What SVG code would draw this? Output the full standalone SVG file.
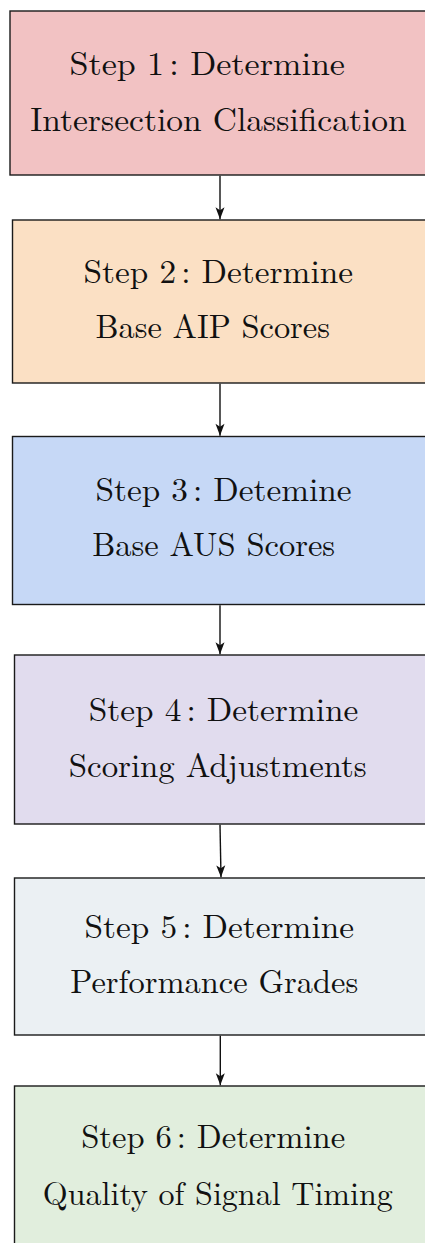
<svg xmlns="http://www.w3.org/2000/svg" width="425" height="1243" viewBox="0 0 425 1243">
<defs>
<style>
.box{stroke:#1a1a1a;stroke-width:1.4}
.t{font-family:"Latin Modern Roman","CMU Serif","Liberation Serif","DejaVu Serif","Noto Serif","FreeSerif","Nimbus Roman","TeX Gyre Termes","Times New Roman",Times,serif;font-size:33px;fill:#111}
.c{stroke:#111;stroke-width:1.4;fill:none}
</style>
<marker id="ah" viewBox="-13 -5 14 10" markerWidth="14" markerHeight="10" refX="0" refY="0" orient="auto" markerUnits="userSpaceOnUse">
<path d="M0,0 L-12,-4.5 L-9,0 L-12,4.5 Z" fill="#111"/>
</marker>
</defs>
<rect width="425" height="1243" fill="#fff"/>
<g id="step1">
<rect class="box" x="10" y="11" width="430" height="164" fill="#f2c2c3"/>
<text class="t" x="69.5" y="75" textLength="275.5" lengthAdjust="spacingAndGlyphs">Step 1<tspan dx="5">:</tspan> Determine</text>
<text class="t" x="30.2" y="130.7" textLength="376.5" lengthAdjust="spacingAndGlyphs">Intersection Classification</text>
</g>
<g id="step2">
<rect class="box" x="12.5" y="220" width="430" height="163" fill="#fbe0c4"/>
<text class="t" x="83.5" y="283.3" textLength="269.5" lengthAdjust="spacingAndGlyphs">Step 2<tspan dx="5">:</tspan> Determine</text>
<text class="t" x="95.5" y="338.3" textLength="234.5" lengthAdjust="spacingAndGlyphs">Base AIP Scores</text>
</g>
<g id="step3">
<rect class="box" x="12.5" y="436.5" width="430" height="168" fill="#c6d8f6"/>
<text class="t" x="95.5" y="500.7" textLength="256" lengthAdjust="spacingAndGlyphs">Step 3<tspan dx="5">:</tspan> Detemine</text>
<text class="t" x="92.2" y="556" textLength="243" lengthAdjust="spacingAndGlyphs">Base AUS Scores</text>
</g>
<g id="step4">
<rect class="box" x="14.5" y="655" width="430" height="169" fill="#e1dcee"/>
<text class="t" x="88.8" y="720.7" textLength="269.5" lengthAdjust="spacingAndGlyphs">Step 4<tspan dx="5">:</tspan> Determine</text>
<text class="t" x="68.8" y="776.7" textLength="298" lengthAdjust="spacingAndGlyphs">Scoring Adjustments</text>
</g>
<g id="step5">
<rect class="box" x="14.5" y="878" width="430" height="157" fill="#ebf0f3"/>
<text class="t" x="84.5" y="938.3" textLength="269.5" lengthAdjust="spacingAndGlyphs">Step 5<tspan dx="5">:</tspan> Determine</text>
<text class="t" x="70.2" y="993.3" textLength="288" lengthAdjust="spacingAndGlyphs">Performance Grades</text>
</g>
<g id="step6">
<rect class="box" x="14.5" y="1086" width="430" height="200" fill="#e1eedd"/>
<text class="t" x="81.2" y="1148.3" textLength="264" lengthAdjust="spacingAndGlyphs">Step 6<tspan dx="5">:</tspan> Determine</text>
<text class="t" x="42.8" y="1205" textLength="350" lengthAdjust="spacingAndGlyphs">Quality of Signal Timing</text>
</g>
<g id="connectors">
<path class="c" d="M220,175.7 L220,219.3" marker-end="url(#ah)"/>
<path class="c" d="M220,383.7 L220,435.8" marker-end="url(#ah)"/>
<path class="c" d="M220,605.2 L220,654.3" marker-end="url(#ah)"/>
<path class="c" d="M220,824.7 L221,877.3" marker-end="url(#ah)"/>
<path class="c" d="M220.3,1035.7 L220.3,1085.3" marker-end="url(#ah)"/>
</g>
</svg>
